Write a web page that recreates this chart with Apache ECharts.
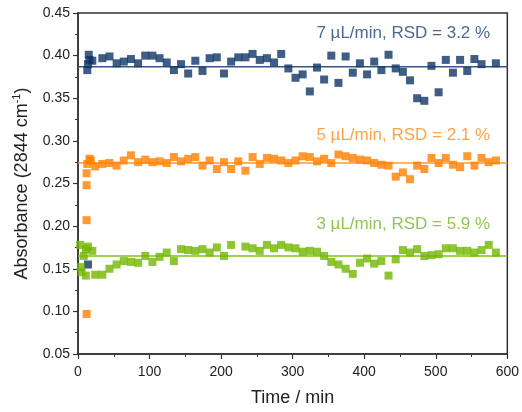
<!DOCTYPE html>
<html>
<head>
<meta charset="utf-8">
<style>
  html, body { margin: 0; padding: 0; background: #fff; }
  #chart { width: 522px; height: 412px; }
</style>
<script src="https://cdn.jsdelivr.net/npm/echarts@6/dist/echarts.min.js"></script>
</head>
<body>
<div id="chart"></div>
<script>
// Absorbance at 2844 cm-1 over time for three flow rates
const t7 = [13, 14, 15, 16, 14, 20, 34, 44, 54, 64, 74, 84, 94, 104, 114, 124, 134, 144, 154, 164, 174, 184, 194, 204, 214, 224, 234, 244, 254, 264, 274, 284, 294, 304, 314, 324, 334, 344, 354, 364, 374, 384, 394, 404, 414, 424, 434, 444, 454, 464, 474, 484, 494, 504, 514, 524, 534, 544, 554, 564, 584];
const a7 = [0.383, 0.390, 0.401, 0.395, 0.155, 0.394, 0.397, 0.399, 0.391, 0.393, 0.396, 0.391, 0.400, 0.400, 0.397, 0.392, 0.383, 0.390, 0.379, 0.394, 0.382, 0.397, 0.398, 0.379, 0.393, 0.398, 0.398, 0.402, 0.395, 0.397, 0.392, 0.402, 0.385, 0.374, 0.378, 0.358, 0.386, 0.372, 0.400, 0.368, 0.399, 0.380, 0.391, 0.378, 0.393, 0.383, 0.401, 0.385, 0.381, 0.371, 0.350, 0.347, 0.388, 0.357, 0.395, 0.380, 0.395, 0.382, 0.396, 0.390, 0.391];

const t5 = [12, 12, 12, 12, 13, 16, 18, 24, 34, 44, 54, 64, 74, 84, 94, 104, 114, 124, 134, 144, 154, 164, 174, 184, 194, 204, 214, 224, 234, 244, 254, 264, 274, 284, 294, 304, 314, 324, 334, 344, 354, 364, 374, 384, 394, 404, 414, 424, 434, 444, 454, 464, 474, 484, 494, 504, 514, 524, 534, 544, 554, 564, 574, 584];
const a5 = [0.097, 0.207, 0.248, 0.262, 0.273, 0.279, 0.277, 0.270, 0.273, 0.274, 0.271, 0.277, 0.283, 0.275, 0.278, 0.275, 0.276, 0.274, 0.281, 0.276, 0.279, 0.281, 0.271, 0.277, 0.267, 0.275, 0.267, 0.276, 0.265, 0.281, 0.273, 0.280, 0.279, 0.277, 0.274, 0.277, 0.282, 0.281, 0.276, 0.279, 0.274, 0.284, 0.282, 0.280, 0.278, 0.277, 0.274, 0.272, 0.271, 0.258, 0.263, 0.255, 0.271, 0.267, 0.280, 0.274, 0.280, 0.272, 0.269, 0.282, 0.271, 0.280, 0.275, 0.277];

const t3 = [3, 4, 5, 8, 11, 11, 14, 20, 24, 34, 44, 54, 64, 74, 84, 94, 104, 114, 124, 134, 144, 154, 164, 174, 184, 194, 204, 214, 234, 244, 254, 264, 274, 284, 294, 304, 314, 324, 334, 344, 354, 364, 374, 384, 394, 404, 414, 424, 434, 444, 454, 464, 474, 484, 494, 504, 514, 524, 534, 544, 554, 564, 574, 584];
const a3 = [0.178, 0.152, 0.146, 0.165, 0.173, 0.142, 0.176, 0.171, 0.143, 0.143, 0.150, 0.155, 0.159, 0.158, 0.157, 0.165, 0.158, 0.164, 0.169, 0.159, 0.173, 0.172, 0.171, 0.173, 0.169, 0.175, 0.165, 0.178, 0.176, 0.174, 0.171, 0.178, 0.174, 0.178, 0.175, 0.174, 0.170, 0.171, 0.170, 0.165, 0.158, 0.155, 0.150, 0.144, 0.157, 0.162, 0.156, 0.159, 0.142, 0.161, 0.172, 0.169, 0.173, 0.165, 0.166, 0.167, 0.174, 0.174, 0.171, 0.171, 0.169, 0.172, 0.178, 0.169];

// mean absorbance of each run
const meanLevels = [0.387, 0.274, 0.165];
const runLabels = ['7 µL/min, RSD = 3.2 %', '5 µL/min, RSD = 2.1 %', '3 µL/min, RSD = 5.9 %'];
// anchor (time, absorbance) of each run's annotation, right-aligned
const labelTime = [576, 576, 576];
const labelAbs = [0.4265, 0.307, 0.2025];

const xTicks = { min: 0, max: 600, interval: 100 };
const yTicks = { min: 0.05, max: 0.45, interval: 0.05 };

const colors = ['#0f3566', '#ff8000', '#70b600'];
const lineColors = ['#34578a', '#ff9a33', '#7cc01a'];
const textColors = ['#1d4275', '#ff8a1a', '#76b628'];

const FONT = '"Liberation Sans", Arial, sans-serif';
const AXIS = '#333';

function pairs(ts, vs) { return ts.map((t, i) => [t, vs[i]]); }
const runs = [pairs(t7, a7), pairs(t5, a5), pairs(t3, a3)];

const series = [];
runs.forEach((d, i) => {
  series.push({
    type: 'scatter',
    data: d,
    symbol: 'rect',
    symbolSize: 8,
    itemStyle: { color: colors[i] },
    z: 3,
    silent: true
  });
  series.push({
    type: 'line',
    data: [[xTicks.min, meanLevels[i]], [xTicks.max, meanLevels[i]]],
    showSymbol: false,
    lineStyle: { color: lineColors[i], width: 1.5 },
    z: 2,
    silent: true
  });
  series.push({
    type: 'scatter',
    data: [[labelTime[i], labelAbs[i]]],
    symbolSize: 0,
    silent: true,
    label: {
      show: true,
      position: 'left',
      distance: 0,
      formatter: runLabels[i],
      color: textColors[i],
      fontSize: 17,
      fontFamily: FONT
    }
  });
});

const chart = echarts.init(document.getElementById('chart'), null, { renderer: 'canvas' });
chart.setOption({
  animation: false,
  backgroundColor: '#fff',
  grid: {
    left: 78, right: 12, top: 13, bottom: 55,
    show: true, borderColor: AXIS, borderWidth: 1.5, backgroundColor: 'transparent'
  },
  xAxis: {
    type: 'value',
    min: xTicks.min, max: xTicks.max, interval: xTicks.interval,
    name: 'Time / min',
    nameLocation: 'middle',
    nameGap: 35,
    nameTextStyle: { fontSize: 18, fontFamily: FONT, color: '#222' },
    axisLine: { show: true, lineStyle: { color: AXIS, width: 1.5 } },
    axisTick: { show: true, inside: false, length: 5, lineStyle: { color: AXIS, width: 1.2 } },
    minorTick: { show: true, splitNumber: 2, length: 3, lineStyle: { color: AXIS, width: 1 } },
    splitLine: { show: false },
    axisLabel: { fontSize: 14, fontFamily: FONT, color: '#222', margin: 11 }
  },
  yAxis: {
    type: 'value',
    min: yTicks.min, max: yTicks.max, interval: yTicks.interval,
    name: 'Absorbance (2844 cm{sup|-1})',
    nameLocation: 'middle',
    nameGap: 42,
    nameTextStyle: {
      fontSize: 18, fontFamily: FONT, color: '#222', lineHeight: 20,
      rich: { sup: { fontSize: 11, fontFamily: FONT, color: '#222', verticalAlign: 'top', lineHeight: 20, padding: [0, 0, 8, 0] } }
    },
    axisLine: { show: true, lineStyle: { color: AXIS, width: 1.5 } },
    axisTick: { show: true, inside: false, length: 5, lineStyle: { color: AXIS, width: 1.2 } },
    minorTick: { show: true, splitNumber: 2, length: 3, lineStyle: { color: AXIS, width: 1 } },
    splitLine: { show: false },
    axisLabel: {
      fontSize: 14, fontFamily: FONT, color: '#222', margin: 8,
      formatter: v => v.toFixed(2)
    }
  },
  series: series
});
</script>
</body>
</html>
